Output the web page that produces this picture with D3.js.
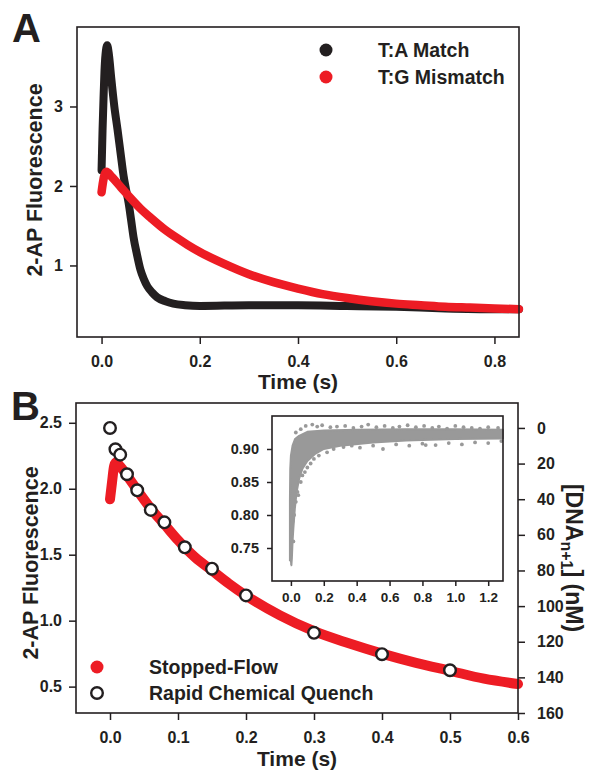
<!DOCTYPE html>
<html>
<head>
<meta charset="utf-8">
<script src="https://cdn.jsdelivr.net/npm/d3@7"></script>
<style>
  body { margin: 0; background: #fff; }
  text { font-family: "Liberation Sans", Arial, sans-serif; font-weight: bold; fill: #231f20; }
</style>
</head>
<body>
<svg width="589" height="770"></svg>
<script>
// ---- panel A: stopped-flow traces ----
var matchT = [0, 0.002, 0.004, 0.006, 0.008, 0.0115, 0.015, 0.02, 0.026, 0.0325, 0.039, 0.045, 0.05, 0.055,
              0.06, 0.065, 0.072, 0.079, 0.086, 0.093, 0.103, 0.113, 0.13, 0.146, 0.17, 0.2, 0.3, 0.4,
              0.5, 0.6, 0.7, 0.8, 0.85];
var matchV = [2.2, 2.7, 3.1, 3.45, 3.65, 3.77, 3.65, 3.34, 3.0, 2.71, 2.4, 2.12, 1.95, 1.79,
              1.58, 1.36, 1.14, 0.95, 0.83, 0.74, 0.66, 0.6, 0.55, 0.52, 0.5, 0.49, 0.5, 0.5,
              0.49, 0.48, 0.46, 0.45, 0.45];
var mismatchT = [0, 0.003, 0.006, 0.01, 0.02, 0.04, 0.06, 0.08, 0.1, 0.125, 0.15, 0.175, 0.2, 0.25,
                 0.3, 0.35, 0.4, 0.45, 0.5, 0.55, 0.6, 0.65, 0.7, 0.75, 0.8, 0.85];
var mismatchV = [1.92, 2.05, 2.14, 2.18, 2.12, 1.98, 1.84, 1.71, 1.6, 1.47, 1.36, 1.26, 1.17, 1.02,
                 0.89, 0.79, 0.71, 0.64, 0.59, 0.55, 0.52, 0.5, 0.48, 0.47, 0.46, 0.45];
var legendA = ["T:A Match", "T:G Mismatch"];

// ---- panel B: stopped-flow vs rapid chemical quench ----
var sfT = [0, 0.003, 0.006, 0.009, 0.015, 0.025, 0.04, 0.06, 0.08, 0.1, 0.125, 0.15, 0.175, 0.2,
           0.25, 0.3, 0.35, 0.4, 0.45, 0.5, 0.55, 0.6];
var sfV = [1.92, 2.05, 2.17, 2.2, 2.17, 2.1, 1.99, 1.85, 1.73, 1.61, 1.48, 1.38, 1.28, 1.19,
           1.04, 0.92, 0.83, 0.75, 0.68, 0.62, 0.56, 0.52];
var rcqT = [0, 0.008, 0.015, 0.025, 0.04, 0.06, 0.08, 0.11, 0.15, 0.2, 0.3, 0.4, 0.5];
var rcqC = [0, 12, 15, 26, 35, 46, 53, 67, 79, 94, 115, 127, 136];
var legendB = ["Stopped-Flow", "Rapid Chemical Quench"];

// ---- inset: band outline (upper edge left->right, lower edge right->left) and stray points ----
var insetUpper = [[-0.006, 0.73], [-0.006, 0.82], [-0.004, 0.87], [0.0, 0.89], [0.01, 0.905], [0.025, 0.915],
                  [0.05, 0.92], [0.1, 0.926], [0.2, 0.928], [0.4, 0.929], [0.7, 0.93], [1.0, 0.93], [1.29, 0.929]];
var insetLower = [[1.29, 0.916], [1.0, 0.915], [0.7, 0.913], [0.5, 0.91], [0.3, 0.905], [0.2, 0.9],
                  [0.15, 0.893], [0.1, 0.882], [0.07, 0.87], [0.05, 0.855], [0.035, 0.835], [0.024, 0.81],
                  [0.015, 0.78], [0.01, 0.76], [0.006, 0.735], [0.003, 0.724], [-0.002, 0.724]];
var insetDots = [[0.018, 0.9], [0.03, 0.925], [0.06, 0.93], [0.09, 0.935], [0.13, 0.937], [0.16, 0.934],
                 [0.19, 0.936], [0.24, 0.933], [0.28, 0.934], [0.33, 0.935], [0.38, 0.932], [0.43, 0.934],
                 [0.47, 0.937], [0.52, 0.933], [0.57, 0.935], [0.62, 0.932], [0.66, 0.934], [0.71, 0.936],
                 [0.76, 0.933], [0.81, 0.935], [0.86, 0.932], [0.9, 0.934], [0.95, 0.931], [1.0, 0.935],
                 [1.05, 0.933], [1.1, 0.932], [1.15, 0.931], [1.2, 0.933], [1.26, 0.932],
                 [0.01, 0.79], [0.015, 0.76], [0.02, 0.8], [0.03, 0.82], [0.04, 0.835], [0.045, 0.83],
                 [0.06, 0.85], [0.07, 0.86], [0.085, 0.865], [0.1, 0.872], [0.12, 0.878], [0.14, 0.885],
                 [0.17, 0.89], [0.22, 0.895], [0.26, 0.9], [0.32, 0.903], [0.37, 0.905], [0.42, 0.902],
                 [0.5, 0.905], [0.56, 0.9], [0.64, 0.907], [0.72, 0.905], [0.8, 0.908], [0.82, 0.906],
                 [0.88, 0.906], [0.96, 0.909], [1.04, 0.907], [1.12, 0.91], [1.2, 0.909], [1.28, 0.912]];

var red = "#ed1c24", black = "#231f20", gray = "#999999";
var svg = d3.select("svg");

function zip(a, b) { return a.map(function(d, i) { return [d, b[i]]; }); }

function styleAxis(g, fs) {
  g.select(".domain").remove();
  g.selectAll(".tick line").attr("stroke", black).attr("stroke-width", 1.5);
  g.selectAll(".tick text").style("font-size", fs + "px").attr("fill", black);
}

function frame(l, t, r, b) {
  svg.append("rect").attr("x", l).attr("y", t).attr("width", r - l).attr("height", b - t)
    .attr("fill", "none").attr("stroke", black).attr("stroke-width", 1.6);
}

// ================= panel A =================
var A = {left: 77, right: 519, top: 27, bottom: 337};
var xA = d3.scaleLinear().domain([-0.05, 0.85]).range([A.left, A.right]);
var yA = d3.scaleLinear().domain([0.1, 4.0]).range([A.bottom, A.top]);

var lineA = d3.line().x(function(d) { return xA(d[0]); }).y(function(d) { return yA(d[1]); })
  .curve(d3.curveMonotoneX);

svg.append("path").datum(zip(matchT, matchV)).attr("d", lineA)
  .attr("fill", "none").attr("stroke", black).attr("stroke-width", 8)
  .attr("stroke-linecap", "round").attr("stroke-linejoin", "round");
svg.append("path").datum(zip(mismatchT, mismatchV)).attr("d", lineA)
  .attr("fill", "none").attr("stroke", red).attr("stroke-width", 8.5)
  .attr("stroke-linecap", "round").attr("stroke-linejoin", "round");

frame(A.left, A.top, A.right, A.bottom);

svg.append("g").attr("transform", "translate(0," + A.bottom + ")")
  .call(d3.axisBottom(xA).tickValues([0, 0.2, 0.4, 0.6, 0.8]).tickFormat(d3.format(".1f"))
    .tickSize(7).tickPadding(12))
  .call(styleAxis, 16);
svg.append("g").attr("transform", "translate(" + A.left + ",0)")
  .call(d3.axisLeft(yA).tickValues([1, 2, 3]).tickFormat(d3.format("d")).tickSize(7).tickPadding(7))
  .call(styleAxis, 16);

svg.append("text").attr("x", (A.left + A.right) / 2).attr("y", 389).attr("text-anchor", "middle")
  .style("font-size", "21px").text("Time (s)");
svg.append("text").attr("transform", "translate(42," + 180 + ") rotate(-90)").attr("text-anchor", "middle")
  .style("font-size", "21.5px").text("2-AP Fluorescence");
svg.append("text").attr("x", 12).attr("y", 42).style("font-size", "40px").text("A");

var legA = svg.append("g").selectAll("g").data(legendA).enter().append("g")
  .attr("transform", function(d, i) { return "translate(326," + (50 + i * 27) + ")"; });
legA.append("circle").attr("r", 6.5).attr("fill", function(d, i) { return i ? red : black; });
legA.append("text").attr("x", 52).attr("y", 7).style("font-size", "19.5px").text(function(d) { return d; });

// ================= panel B =================
var B = {left: 76, right: 518, top: 403, bottom: 713};
var xB = d3.scaleLinear().domain([-0.05, 0.6]).range([B.left, B.right]);
var yB = d3.scaleLinear().domain([0.3, 2.65]).range([B.bottom, B.top]);
var yC = d3.scaleLinear().domain([160, -14]).range([B.bottom, B.top]);

var lineB = d3.line().x(function(d) { return xB(d[0]); }).y(function(d) { return yB(d[1]); })
  .curve(d3.curveMonotoneX);
svg.append("path").datum(zip(sfT, sfV)).attr("d", lineB)
  .attr("fill", "none").attr("stroke", red).attr("stroke-width", 10)
  .attr("stroke-linecap", "round").attr("stroke-linejoin", "round");

svg.append("g").selectAll("circle").data(zip(rcqT, rcqC)).enter().append("circle")
  .attr("cx", function(d) { return xB(d[0]); })
  .attr("cy", function(d) { return yC(d[1]); })
  .attr("r", 5.8).attr("fill", "#fff").attr("stroke", black).attr("stroke-width", 2.4);

frame(B.left, B.top, B.right, B.bottom);

svg.append("g").attr("transform", "translate(0," + B.bottom + ")")
  .call(d3.axisBottom(xB).tickValues([0, 0.1, 0.2, 0.3, 0.4, 0.5, 0.6]).tickFormat(d3.format(".1f"))
    .tickSize(7).tickPadding(12))
  .call(styleAxis, 16);
svg.append("g").attr("transform", "translate(" + B.left + ",0)")
  .call(d3.axisLeft(yB).tickValues([0.5, 1.0, 1.5, 2.0, 2.5]).tickFormat(d3.format(".1f"))
    .tickSize(7).tickPadding(7))
  .call(styleAxis, 16);
svg.append("g").attr("transform", "translate(" + B.right + ",0)")
  .call(d3.axisRight(yC).tickValues(d3.range(0, 161, 20)).tickFormat(d3.format("d"))
    .tickSize(7).tickPadding(12))
  .call(styleAxis, 16);

svg.append("text").attr("x", (B.left + B.right) / 2).attr("y", 766).attr("text-anchor", "middle")
  .style("font-size", "21px").text("Time (s)");
svg.append("text").attr("transform", "translate(38," + 563 + ") rotate(-90)").attr("text-anchor", "middle")
  .style("font-size", "21.5px").text("2-AP Fluorescence");
var rt = svg.append("text").attr("transform", "translate(566," + 558 + ") rotate(90)")
  .attr("text-anchor", "middle").style("font-size", "23px");
rt.append("tspan").text("[DNA");
rt.append("tspan").attr("dy", 5).style("font-size", "16px").text("n+1");
rt.append("tspan").attr("dy", -5).text("] (nM)");
svg.append("text").attr("x", 11).attr("y", 420).style("font-size", "40px").text("B");

var legB = svg.append("g").selectAll("g").data(legendB).enter().append("g")
  .attr("transform", function(d, i) { return "translate(97," + (667 + i * 26) + ")"; });
legB.append("circle").attr("r", function(d, i) { return i ? 5.8 : 6.5; })
  .attr("fill", function(d, i) { return i ? "#fff" : red; })
  .attr("stroke", function(d, i) { return i ? black : "none"; })
  .attr("stroke-width", 2.4);
legB.append("text").attr("x", 52).attr("y", 7).style("font-size", "19.5px").text(function(d) { return d; });

// ================= inset =================
var I = {left: 272, right: 503, top: 416, bottom: 581};
var xI = d3.scaleLinear().domain([-0.115, 1.29]).range([I.left, I.right]);
var yI = d3.scaleLinear().domain([0.7, 0.95]).range([I.bottom, I.top]);

svg.append("rect").attr("x", I.left).attr("y", I.top).attr("width", I.right - I.left)
  .attr("height", I.bottom - I.top).attr("fill", "#fff");

var band = insetUpper.concat(insetLower);
svg.append("path").datum(band)
  .attr("d", d3.line().x(function(d) { return xI(d[0]); }).y(function(d) { return yI(d[1]); }))
  .attr("fill", gray).attr("stroke", gray).attr("stroke-width", 2).attr("stroke-linejoin", "round");
svg.append("g").selectAll("circle").data(insetDots).enter().append("circle")
  .attr("cx", function(d) { return xI(d[0]); })
  .attr("cy", function(d) { return yI(d[1]); })
  .attr("r", 1.9).attr("fill", gray);

frame(I.left, I.top, I.right, I.bottom);

svg.append("g").attr("transform", "translate(0," + I.bottom + ")")
  .call(d3.axisBottom(xI).tickValues(d3.range(0, 1.3, 0.2)).tickFormat(d3.format(".1f"))
    .tickSize(5).tickPadding(6))
  .call(styleAxis, 13.5);
svg.append("g").attr("transform", "translate(" + I.left + ",0)")
  .call(d3.axisLeft(yI).tickValues([0.75, 0.8, 0.85, 0.9]).tickFormat(d3.format(".2f"))
    .tickSize(5).tickPadding(8))
  .call(styleAxis, 14.5);
</script>
</body>
</html>
